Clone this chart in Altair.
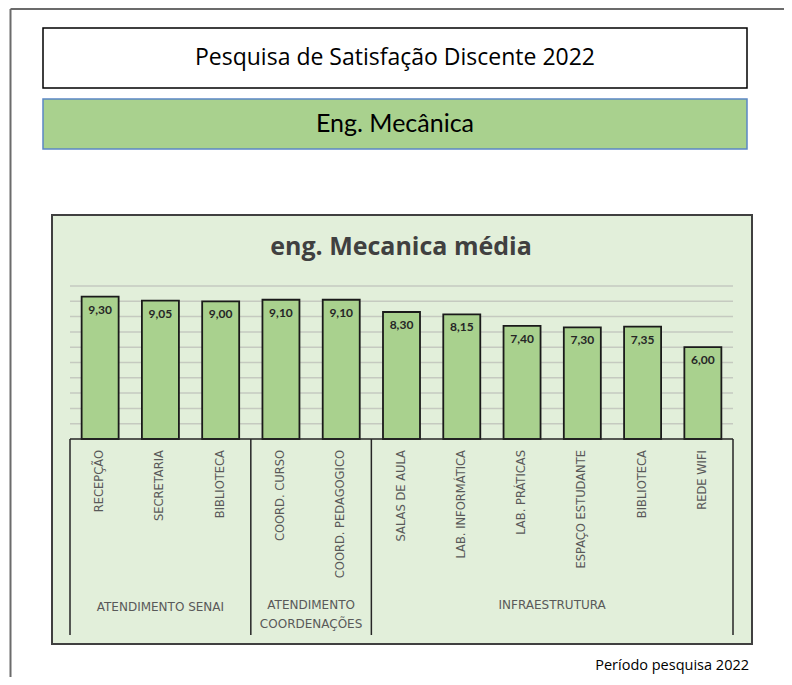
import altair as alt
import pandas as pd

# ---------------- data ----------------
categories = ["RECEPÇÃO", "SECRETARIA", "BIBLIOTECA", "COORD. CURSO", "COORD. PEDAGOGICO",
              "SALAS DE AULA", "LAB. INFORMÁTICA", "LAB. PRÁTICAS", "ESPAÇO ESTUDANTE",
              "BIBLIOTECA", "REDE WIFI"]
values = [9.30, 9.05, 9.00, 9.10, 9.10, 8.30, 8.15, 7.40, 7.30, 7.35, 6.00]
group_names = ["ATENDIMENTO SENAI", "ATENDIMENTO\nCOORDENAÇÕES", "INFRAESTRUTURA"]
group_sizes = [3, 2, 6]
grid_ticks = [1, 2, 3, 4, 5, 6, 7, 8, 9, 10]

main_title = "Pesquisa de Satisfação Discente 2022"
course_title = "Eng. Mecânica"
chart_title = "eng. Mecanica média"
footer = "Período pesquisa 2022"

# ---------------- layout ----------------
W, H = 663, 153
N = len(categories)
STEP = W / N
FONT = "Lato"
AXFONT = "DejaVu Sans"

df = pd.DataFrame({
    "key": list(range(N)),
    "cat": categories,
    "val": values,
    "lbl": [f"{v:.2f}".replace(".", ",") for v in values],
})

# group boundaries and centers (in category index units)
bounds, centers = [], []
start = 0
for name, size in zip(group_names, group_sizes):
    bounds.append(start)
    centers.append({"name": name, "pos": start + (size - 1) / 2})
    start += size
sep_left = pd.DataFrame({"key": bounds})
sep_right = pd.DataFrame({"key": [N - 1]})
cen = pd.DataFrame(centers)
cen["key"] = cen["pos"].apply(lambda p: int(p))
cen["half"] = cen["pos"].apply(lambda p: p != int(p))

xscale = alt.Scale(domain=list(range(N)), paddingInner=0.386, paddingOuter=0.193)
X = alt.X("key:O", scale=xscale, axis=None)
yscale = alt.Scale(domain=[0, 10], nice=False, zero=True)

one = pd.DataFrame({"a": [0]})

def box(x, x2, y, y2, fill, stroke, sw):
    return alt.Chart(one).mark_rect(fill=fill, stroke=stroke, strokeWidth=sw).encode(
        x=alt.value(x), x2=alt.value(x2), y=alt.value(y), y2=alt.value(y2))

def label(text, x, y, size, weight="normal", color="#000000", align="center", font=FONT):
    return alt.Chart(one).mark_text(text=text, fontSize=size, fontWeight=weight, color=color,
                                    align=align, baseline="middle", font=font).encode(
        x=alt.value(x), y=alt.value(y))

# outer frame lines
frame_top = alt.Chart(one).mark_rule(color="#6b6b6b", strokeWidth=2).encode(
    x=alt.value(-59.5), x2=alt.value(714), y=alt.value(-277))
frame_left = alt.Chart(one).mark_rule(color="#6b6b6b", strokeWidth=2).encode(
    x=alt.value(-59.5), y=alt.value(-277), y2=alt.value(391))

white_box = box(-27, 677, -258, -198, "#ffffff", "#000000", 1.5)
green_box = box(-27, 677, -187, -137, "#a9d18e", "#5b87c5", 1.5)
chart_bg = box(-18, 682, -71, 358, "#e2efda", "#404040", 2)

t_main = label(main_title, 325, -228, 23, font="Open Sans")
t_course = label(course_title, 325, -162, 25)
t_chart = label(chart_title, 331, -39, 25, weight="bold", color="#404040", font="Open Sans")
t_footer = label(footer, 679, 380, 14.5, align="right", font="Open Sans")

grid = alt.Chart(pd.DataFrame({"t": grid_ticks})).mark_rule(color="#c5cac0", strokeWidth=1.5).encode(
    y=alt.Y("t:Q", scale=yscale, axis=None))

bars = alt.Chart(df).mark_bar(fill="#a9d18e", stroke="#1a1a1a", strokeWidth=1.8).encode(
    x=X, y=alt.Y("val:Q", scale=yscale, axis=None))

bar_text = alt.Chart(df).mark_text(font=FONT, fontSize=12, fontWeight="bold", color="#262626",
                                   baseline="middle", dy=13).encode(
    x=X, y=alt.Y("val:Q", scale=yscale), text="lbl:N")

baseline = alt.Chart(one).mark_rule(color="#262626", strokeWidth=1.5).encode(
    y=alt.datum(0, scale=yscale))

cat_text = alt.Chart(df).mark_text(font=AXFONT, fontSize=11.5, color="#595959", angle=270,
                                   align="right", baseline="middle").encode(
    x=X, y=alt.value(164), text="cat:N")

sep_l = alt.Chart(sep_left).mark_rule(color="#262626", strokeWidth=1.5, xOffset=-STEP / 2).encode(
    x=X, y=alt.value(153), y2=alt.value(349))
sep_r = alt.Chart(sep_right).mark_rule(color="#262626", strokeWidth=1.5, xOffset=STEP / 2).encode(
    x=X, y=alt.value(153), y2=alt.value(349))

grp_full = alt.Chart(cen).transform_filter("!datum.half").mark_text(
    font=AXFONT, fontSize=12, color="#595959", baseline="middle", lineBreak="\n",
    lineHeight=19).encode(x=X, y=alt.value(321), text="name:N")
grp_half = alt.Chart(cen).transform_filter("datum.half").mark_text(
    font=AXFONT, fontSize=12, color="#595959", baseline="top", lineBreak="\n",
    lineHeight=19, xOffset=STEP / 2, dy=-7).encode(x=X, y=alt.value(321), text="name:N")

chart = alt.layer(
    frame_top, frame_left, white_box, green_box, chart_bg,
    t_main, t_course, t_chart, t_footer,
    grid, bars, baseline, bar_text, cat_text, sep_l, sep_r, grp_full, grp_half,
).properties(
    width=W, height=H,
    autosize=alt.AutoSizeParams(type="none"),
    padding={"left": 62, "top": 278, "right": 51, "bottom": 238},
    background="#ffffff",
).configure_view(stroke=None)

chart.save("out.html", embed_options={"renderer": "svg", "actions": False})
